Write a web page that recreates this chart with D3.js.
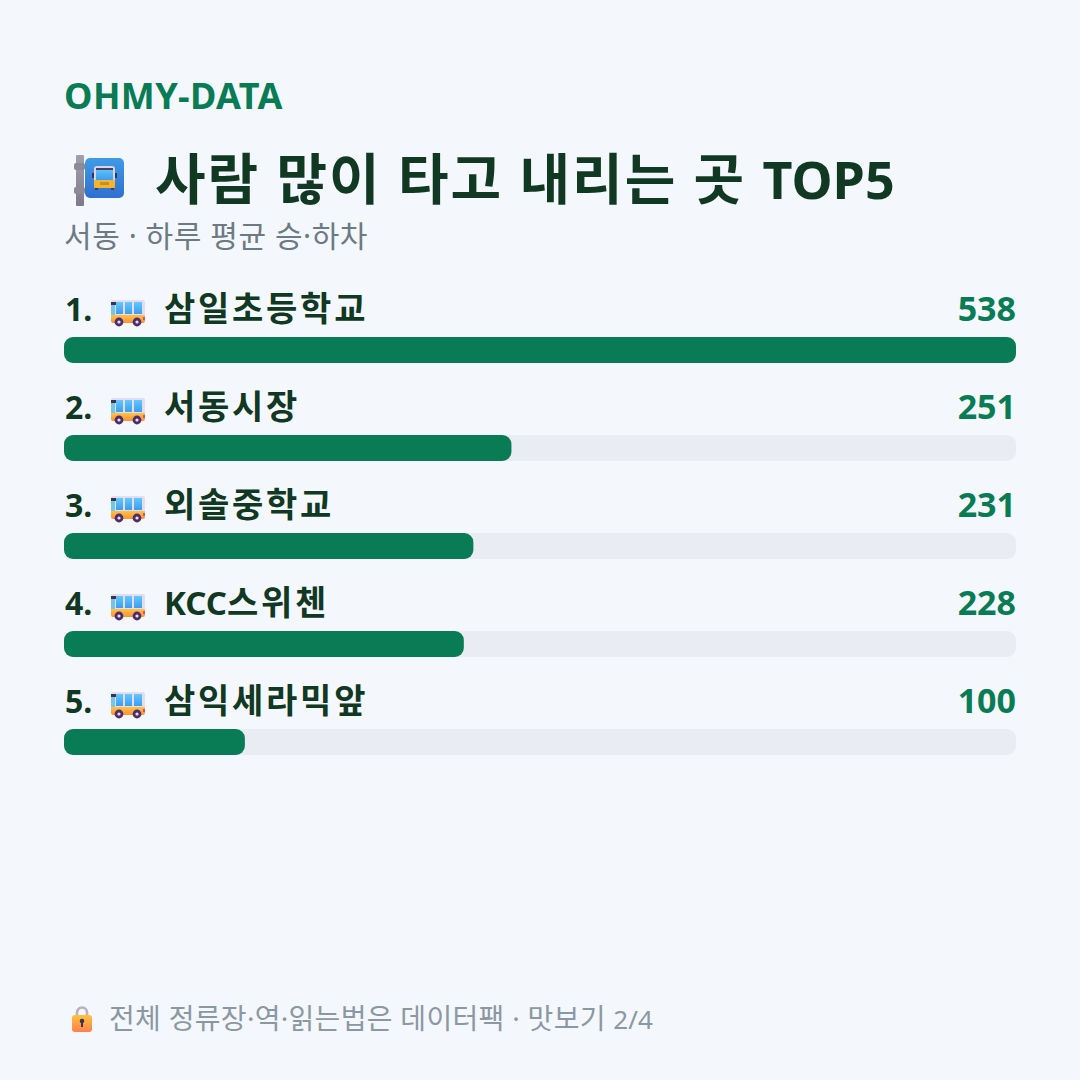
<!DOCTYPE html>
<html lang="ko">
<head>
<meta charset="utf-8">
<title>사람 많이 타고 내리는 곳 TOP5</title>
<script src="https://cdn.jsdelivr.net/npm/d3@7/dist/d3.min.js"></script>
<style>
html,body{margin:0;padding:0;background:#f4f7fb}
svg{display:block}
text{font-family:"Noto Sans","Noto Sans CJK KR",sans-serif;white-space:pre}
</style>
</head>
<body>
<div id="chart"></div>
<script>
const brandLabel = "OHMY-DATA";
const titleText = "사람 많이 타고 내리는 곳 TOP5";
const subtitleText = "서동 · 하루 평균 승·하차";
const footerText = "전체 정류장·역·읽는법은 데이터팩 · 맛보기 2/4";
const ranks = [1, 2, 3, 4, 5];
const stops = ["삼일초등학교", "서동시장", "외솔중학교", "KCC스위첸", "삼익세라믹앞"];
const riders = [538, 251, 231, 228, 100];

const ink = "#103823", green = "#0a7c55", track = "#e9edf3";
const svg = d3.select("#chart").append("svg").attr("width", 1080).attr("height", 1080);
const defs = svg.append("defs");

function gradient(id, c0, c1) {
  const g = defs.append("linearGradient").attr("id", id).attr("x1", 0).attr("y1", 0).attr("x2", 0).attr("y2", 1);
  g.append("stop").attr("offset", 0).attr("stop-color", c0);
  g.append("stop").attr("offset", 1).attr("stop-color", c1);
}
gradient("gSign", "#3f9be8", "#2f6fd0");
gradient("gPole", "#a39fae", "#7f7a8b");
gradient("gGlass", "#62c8fb", "#3d9df2");
gradient("gBody", "#ffc341", "#ff8f3c");
gradient("gLock", "#ffc23e", "#ff7f4c");

svg.append("rect").attr("width", 1080).attr("height", 1080).attr("fill", "#f4f7fb");

// Hangul and Latin runs get their own size and tracking so the two scripts sit evenly
function mixedText(sel, str, hangul, latin, spacing) {
  str.match(/[A-Za-z0-9\/-]+|[^A-Za-z0-9\/-]+/g).forEach(run => {
    const isLatin = /^[A-Za-z0-9\/-]/.test(run);
    sel.append("tspan")
      .attr("font-size", isLatin ? latin : hangul)
      .attr("letter-spacing", isLatin ? 0 : spacing)
      .text(run);
  });
}

// Header
svg.append("text").attr("x", 64).attr("y", 109).attr("font-size", 36).attr("font-weight", 700)
  .attr("letter-spacing", 0.4).attr("fill", green).text(brandLabel);
svg.append("text").attr("x", 155).attr("y", 199).attr("font-weight", 700)
  .attr("fill", ink).call(mixedText, titleText, 55, 52, 2);
svg.append("text").attr("x", 64).attr("y", 247)
  .attr("fill", "#6c7a86").call(mixedText, subtitleText, 30, 28, 0.55);

// Bus stop sign beside the title
const sign = svg.append("g").attr("transform", "translate(50,140)");
sign.append("rect").attr("x", 26).attr("y", 15).attr("width", 8).attr("height", 51).attr("rx", 1).attr("fill", "url(#gPole)");
sign.append("rect").attr("x", 24).attr("y", 23).attr("width", 11).attr("height", 7).attr("rx", 2).attr("fill", "#8d8997");
sign.append("rect").attr("x", 24).attr("y", 47).attr("width", 11).attr("height", 7).attr("rx", 2).attr("fill", "#8d8997");
sign.append("rect").attr("x", 35).attr("y", 18).attr("width", 39).attr("height", 40).attr("rx", 5).attr("fill", "url(#gSign)");
sign.append("rect").attr("x", 42).attr("y", 33).attr("width", 2).attr("height", 5).attr("fill", "#3b3350");
sign.append("rect").attr("x", 65).attr("y", 33).attr("width", 2).attr("height", 5).attr("fill", "#3b3350");
sign.append("rect").attr("x", 44).attr("y", 26).attr("width", 21).attr("height", 22).attr("rx", 3).attr("fill", "#d9d4ea");
sign.append("rect").attr("x", 46).attr("y", 28).attr("width", 17).attr("height", 12).attr("fill", "url(#gGlass)");
sign.append("rect").attr("x", 46).attr("y", 28).attr("width", 17).attr("height", 2).attr("fill", "#4a3f63");
sign.append("rect").attr("x", 44).attr("y", 40).attr("width", 21).attr("height", 8).attr("rx", 1).attr("fill", "#f2b52e");
sign.append("rect").attr("x", 50).attr("y", 42).attr("width", 9).attr("height", 3).attr("fill", "#c98d2a");
sign.append("rect").attr("x", 45).attr("y", 48).attr("width", 3).attr("height", 2).attr("fill", "#433a55");
sign.append("rect").attr("x", 61).attr("y", 48).attr("width", 3).attr("height", 2).attr("fill", "#433a55");

// Ranked bars: length is the share of the top stop, rounded to a whole percent
const x = d3.scaleLinear().domain([0, 100]).range([0, 952]);
const y = d3.scaleBand().domain(ranks).range([288, 288 + 98 * ranks.length]).paddingInner(0);
const share = v => Math.round(v / d3.max(riders) * 100);

function drawBus(g) {
  g.append("rect").attr("x", 0).attr("y", 0).attr("width", 34).attr("height", 16).attr("rx", 2).attr("fill", "#e4dcef");
  g.append("rect").attr("x", 5).attr("y", 2).attr("width", 7).attr("height", 12).attr("fill", "url(#gGlass)");
  g.append("rect").attr("x", 14).attr("y", 2).attr("width", 7).attr("height", 12).attr("fill", "url(#gGlass)");
  g.append("rect").attr("x", 23).attr("y", 2).attr("width", 8).attr("height", 12).attr("fill", "url(#gGlass)");
  g.append("rect").attr("x", 0).attr("y", 2).attr("width", 5).attr("height", 3).attr("fill", "#3b3350");
  g.append("rect").attr("x", 0).attr("y", 5).attr("width", 4).attr("height", 10).attr("fill", "#6fc6ee");
  g.append("path").attr("d", "M0 15H34V21a2 2 0 0 1 -2 2H2a2 2 0 0 1 -2 -2Z").attr("fill", "url(#gBody)");
  g.append("rect").attr("x", 32).attr("y", 17).attr("width", 2).attr("height", 3).attr("fill", "#e0468a");
  [8, 26].forEach(cx => {
    g.append("circle").attr("cx", cx).attr("cy", 22).attr("r", 4.4).attr("fill", "#4a2f6b");
    g.append("circle").attr("cx", cx).attr("cy", 22).attr("r", 1.6).attr("fill", "#e9dff0");
  });
}

const row = svg.append("g").selectAll("g").data(ranks).join("g")
  .attr("transform", d => `translate(64,${y(d)})`);
row.append("text").attr("x", 1).attr("y", 33).attr("font-size", 32).attr("font-weight", 700)
  .attr("fill", ink).text(d => `${d}.`);
row.append("g").attr("transform", "translate(47,12)").each(function () { drawBus(d3.select(this)); });
row.append("text").attr("x", 100).attr("y", 33).attr("font-weight", 700)
  .attr("fill", ink).each(function (d, i) { mixedText(d3.select(this), stops[i], 34, 33, 2.75); });
row.append("text").attr("x", 952).attr("y", 33).attr("text-anchor", "end").attr("font-size", 34).attr("font-weight", 700)
  .attr("fill", green).text((d, i) => riders[i]);
row.append("rect").attr("y", 49).attr("height", 26).attr("rx", 9).attr("width", x(100)).attr("fill", track);
row.append("rect").attr("y", 49).attr("height", 26).attr("rx", 9)
  .attr("width", (d, i) => x(share(riders[i]))).attr("fill", green);

// Footer
const lock = svg.append("g").attr("transform", "translate(72,1005)");
lock.append("path").attr("d", "M5 11V7.5a5 5 0 0 1 10 0V11").attr("fill", "none").attr("stroke", "#b9b0c6").attr("stroke-width", 2.6);
lock.append("rect").attr("x", 0).attr("y", 10).attr("width", 20).attr("height", 17).attr("rx", 3).attr("fill", "url(#gLock)");
lock.append("circle").attr("cx", 10).attr("cy", 16).attr("r", 2.3).attr("fill", "#3b3350");
lock.append("rect").attr("x", 9).attr("y", 16).attr("width", 2).attr("height", 6).attr("fill", "#3b3350");
svg.append("text").attr("x", 109).attr("y", 1029)
  .attr("fill", "#8b98a3").call(mixedText, footerText, 28, 26, 0.3);
</script>
</body>
</html>
